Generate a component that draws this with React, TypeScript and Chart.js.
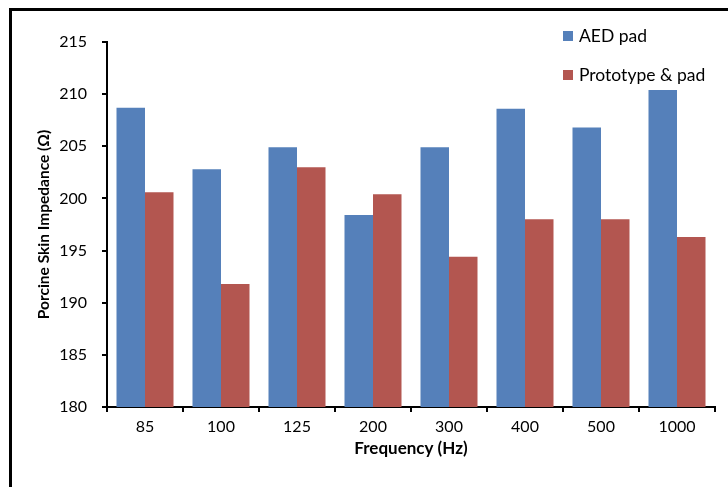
import React, { useEffect, useRef } from "react";
import { Chart, registerables } from "chart.js";

Chart.register(...registerables);

const categories = ["85", "100", "125", "200", "300", "400", "500", "1000"];
const aedPad = [208.7, 202.8, 204.9, 198.4, 204.9, 208.6, 206.8, 210.4];
const prototypePad = [200.6, 191.8, 203.0, 200.4, 194.4, 198.0, 198.0, 196.3];
const seriesLabels = ["AED pad", "Prototype & pad"];
const seriesColors = ["#5580BA", "#B35650"];

const FONT = "Lato, 'Open Sans', sans-serif";

const framePlugin = {
  id: "frame",
  afterDraw(chart: any) {
    const ctx = chart.ctx;
    ctx.save();
    ctx.fillStyle = "#000";
    ctx.fillRect(9, 8, 728 - 9, 3);
    ctx.fillRect(9, 8, 3, 487 - 8);
    ctx.restore();
  },
};

const legendPlugin = {
  id: "customLegend",
  afterDraw(chart: any) {
    const ctx = chart.ctx;
    ctx.save();
    ctx.font = `17.5px ${FONT}`;
    ctx.textBaseline = "middle";
    ctx.textAlign = "left";
    chart.data.datasets.forEach((ds: any, i: number) => {
      const y = 36 + i * 39;
      ctx.fillStyle = ds.backgroundColor;
      ctx.fillRect(563, y - 5, 10, 10);
      ctx.fillStyle = "#000";
      ctx.fillText(ds.label, 579, y);
    });
    ctx.restore();
  },
};

export default function App() {
  const ref = useRef<HTMLCanvasElement>(null);
  useEffect(() => {
    if (!ref.current) return;
    const chart = new Chart(ref.current, {
      type: "bar",
      data: {
        labels: categories,
        datasets: [
          { label: seriesLabels[0], data: aedPad, backgroundColor: seriesColors[0] },
          { label: seriesLabels[1], data: prototypePad, backgroundColor: seriesColors[1] },
        ],
      },
      options: {
        responsive: false,
        animation: false,
        devicePixelRatio: 1,
        layout: { padding: { left: 0, top: 42, right: 13, bottom: 0 } },
        datasets: { bar: { categoryPercentage: 0.75, barPercentage: 1.0 } },
        plugins: { legend: { display: false }, tooltip: { enabled: false } },
        scales: {
          x: {
            grid: { drawOnChartArea: false, drawTicks: true, tickLength: 5, color: "#000", lineWidth: 2 },
            border: { color: "#000", width: 2 },
            ticks: { color: "#000", font: { family: FONT, size: 16 }, padding: 5 },
            title: {
              display: true,
              text: "Frequency (Hz)",
              color: "#000",
              font: { family: FONT, size: 17, weight: "bold" },
              padding: { top: 0, bottom: 28 },
            },
            afterFit(scale: any) {
              scale.height = 80;
            },
          },
          y: {
            min: 180,
            max: 215,
            grid: { drawOnChartArea: false, drawTicks: true, tickLength: 5, color: "#000", lineWidth: 2 },
            border: { color: "#000", width: 2 },
            ticks: { stepSize: 5, color: "#000", font: { family: FONT, size: 16 }, padding: 15 },
            title: {
              display: true,
              text: "Porcine Skin Impedance (Ω)",
              color: "#000",
              font: { family: FONT, size: 15.5, weight: "bold" },
              padding: { top: 35, bottom: 0 },
            },
            afterFit(scale: any) {
              scale.width = 107;
            },
          },
        },
      },
      plugins: [framePlugin, legendPlugin],
    } as any);
    return () => chart.destroy();
  }, []);
  return (
    <div style={{ position: "absolute", left: 0, top: 0, width: 728, height: 487, background: "#fff" }}>
      <canvas ref={ref} width={728} height={487} style={{ display: "block" }} />
    </div>
  );
}
